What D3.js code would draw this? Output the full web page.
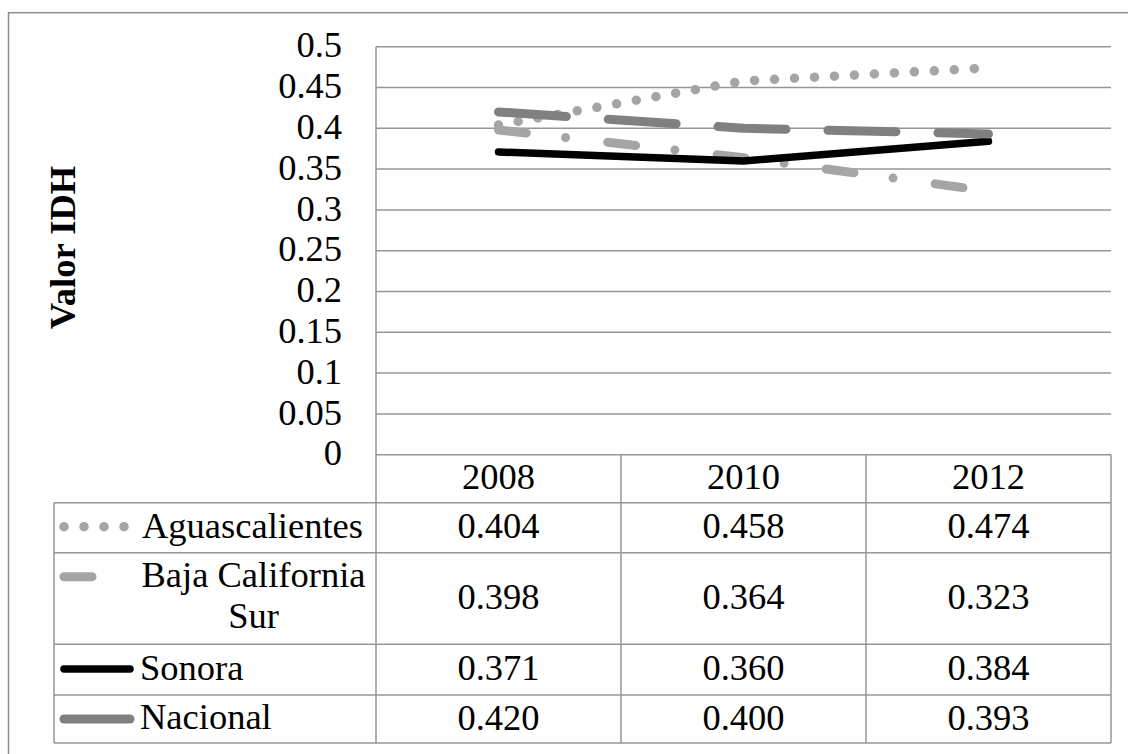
<!DOCTYPE html>
<html>
<head>
<meta charset="utf-8">
<script src="https://cdn.jsdelivr.net/npm/d3@7/dist/d3.min.js"></script>
</head>
<body style="margin:0;padding:0;background:#fff">
<svg id="chart" width="1128" height="754" style="display:block"></svg>
<script>
// ---- data ----
const years = ["2008", "2010", "2012"];
const seriesNames = ["Aguascalientes", "Baja California Sur", "Sonora", "Nacional"];
const aguascalientes = [0.404, 0.458, 0.474];
const bajaCaliforniaSur = [0.398, 0.364, 0.323];
const sonora = [0.371, 0.360, 0.384];
const nacional = [0.420, 0.400, 0.393];
const yTicks = [0, 0.05, 0.1, 0.15, 0.2, 0.25, 0.3, 0.35, 0.4, 0.45, 0.5];
const yTickLabels = ["0", "0.05", "0.1", "0.15", "0.2", "0.25", "0.3", "0.35", "0.4", "0.45", "0.5"];
const yTitle = "Valor IDH";

const seriesValues = [aguascalientes, bajaCaliforniaSur, sonora, nacional];
const seriesStyle = [
  { color: "#a5a5a5", width: 9.5, dash: "0,20" },
  { color: "#a5a5a5", width: 9, dash: "28,39.5,0,42.5" },
  { color: "#000000", width: 7.5, dash: null },
  { color: "#808080", width: 9, dash: "68,42" }
];

// ---- layout ----
const FONT = "Liberation Serif, Times New Roman, Tinos, serif";
const svg = d3.select("#chart");
const plotL = 376, plotR = 1111, plotT = 46.7, plotB = 454.7;
const tableL = 54;
const catRowB = 502.7;
const rowBounds = [502.7, 552.7, 644.3, 695, 743];
const fontSize = 36.5;
const gridColor = "#969696";

function serif(sel) {
  return sel.attr("font-family", FONT).style("font-family", FONT, "important")
    .attr("font-size", fontSize).style("font-size", fontSize + "px", "important");
}

// outer border
svg.append("rect")
  .attr("x", 8.5).attr("y", 12.7).attr("width", 1140).attr("height", 760)
  .attr("fill", "none").attr("stroke", "#8c8c8c").attr("stroke-width", 1.5);

const x = d3.scaleBand().domain(years).range([plotL, plotR]).padding(0);
const y = d3.scaleLinear().domain([0, 0.5]).range([plotB, plotT]);

// gridlines
svg.append("g").selectAll("line").data(yTicks).join("line")
  .attr("x1", plotL).attr("x2", plotR)
  .attr("y1", d => y(d)).attr("y2", d => y(d))
  .attr("stroke", gridColor).attr("stroke-width", 1.5);

// y axis labels
const yAxis = d3.axisLeft(y).tickValues(yTicks)
  .tickFormat((d, i) => yTickLabels[i]).tickSize(0).tickPadding(34);
const gy = svg.append("g").attr("transform", `translate(${plotL},0)`).call(yAxis);
serif(gy);
gy.select(".domain").remove();
serif(gy.selectAll("text")).attr("dy", "0.28em").attr("fill", "#000");

// y axis title
serif(svg.append("text")
  .attr("transform", "translate(75,247.5) rotate(-90)")
  .attr("text-anchor", "middle"))
  .attr("font-weight", "bold")
  .text(yTitle);

// table lines
const tg = svg.append("g").attr("stroke", gridColor).attr("stroke-width", 1.5);
tg.append("line").attr("x1", plotL).attr("x2", plotL).attr("y1", plotT).attr("y2", rowBounds[rowBounds.length - 1]);
years.forEach((yr) => {
  const xr = x(yr) + x.bandwidth();
  tg.append("line").attr("x1", xr).attr("x2", xr).attr("y1", plotB).attr("y2", rowBounds[rowBounds.length - 1]);
});
tg.append("line").attr("x1", tableL).attr("x2", tableL).attr("y1", rowBounds[0]).attr("y2", rowBounds[rowBounds.length - 1]);
rowBounds.forEach(rb => {
  tg.append("line").attr("x1", tableL).attr("x2", plotR).attr("y1", rb).attr("y2", rb);
});

// category labels
serif(svg.append("g").selectAll("text").data(years).join("text")
  .attr("x", d => x(d) + x.bandwidth() / 2)
  .attr("y", (plotB + catRowB) / 2 + 10.6)
  .attr("text-anchor", "middle"))
  .text(d => d);

// series lines
const line = d3.line()
  .x((d, i) => x(years[i]) + x.bandwidth() / 2)
  .y(d => y(d));
seriesValues.forEach((vals, si) => {
  const st = seriesStyle[si];
  svg.append("path").datum(vals)
    .attr("d", line)
    .attr("fill", "none")
    .attr("stroke", st.color)
    .attr("stroke-width", st.width)
    .attr("stroke-linecap", "round")
    .attr("stroke-linejoin", "round")
    .attr("stroke-dasharray", st.dash);
});

// table values
const fmt = d3.format(".3f");
seriesValues.forEach((vals, si) => {
  const cy = (rowBounds[si] + rowBounds[si + 1]) / 2;
  serif(svg.append("g").selectAll("text").data(vals).join("text")
    .attr("x", (d, i) => x(years[i]) + x.bandwidth() / 2)
    .attr("y", cy + 10.7)
    .attr("text-anchor", "middle"))
    .text(d => fmt(d));
});

// legend keys + names
const keyX1 = 64, keyX2 = 130;
const keyY = [526.7, 576.7, 669, 719];
seriesNames.forEach((name, si) => {
  const st = seriesStyle[si];
  svg.append("line")
    .attr("x1", keyX1).attr("x2", keyX2)
    .attr("y1", keyY[si]).attr("y2", keyY[si])
    .attr("stroke", st.color).attr("stroke-width", st.width)
    .attr("stroke-linecap", "round")
    .attr("stroke-dasharray", st.dash);
  const cy = (rowBounds[si] + rowBounds[si + 1]) / 2;
  if (si === 1) {
    const t = serif(svg.append("text").attr("text-anchor", "middle"));
    t.append("tspan").attr("x", 253.5).attr("y", 586.7).text("Baja California");
    t.append("tspan").attr("x", 253.5).attr("y", 628).text("Sur");
  } else {
    serif(svg.append("text")
      .attr("x", si === 0 ? 142 : 140)
      .attr("y", cy + 10.3))
      .text(name);
  }
});
</script>
</body>
</html>
